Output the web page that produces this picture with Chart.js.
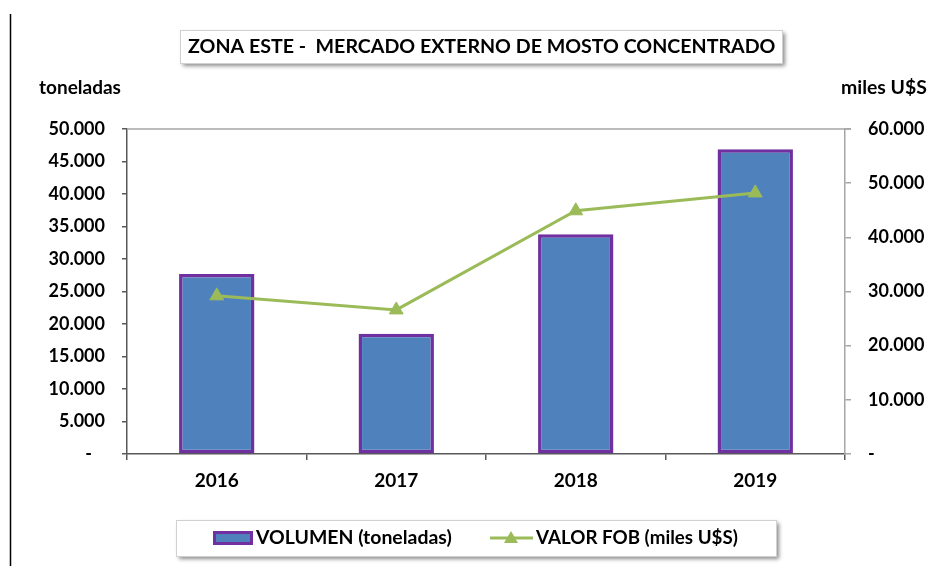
<!DOCTYPE html>
<html>
<head>
<meta charset="utf-8">
<script src="https://cdn.jsdelivr.net/npm/chart.js@4/dist/chart.umd.min.js"></script>
<style>
  html, body { margin: 0; padding: 0; background: #ffffff; }
  #wrap { width: 939px; height: 572px; position: relative; }
</style>
</head>
<body>
<div id="wrap"><canvas id="c" width="939" height="572"></canvas></div>
<script>
// ---- data ----
const categories = ['2016', '2017', '2018', '2019'];
const volumenToneladas = [27700, 18500, 33800, 46900];
const valorFobMilesUSS = [29200, 26600, 44900, 48200];
const leftTicksMax = 50000;
const leftTicksStep = 5000;
const rightTicksMax = 60000;
const rightTicksStep = 10000;
const chartTitle = 'ZONA ESTE -  MERCADO EXTERNO DE MOSTO CONCENTRADO';
const leftAxisTitle = 'toneladas';
const rightAxisTitle = 'miles U$S';
const seriesLabels = ['VOLUMEN (toneladas)', 'VALOR FOB (miles U$S)'];

const FONT = 'Lato, "Open Sans", "DejaVu Sans", sans-serif';
const BAR_FILL = '#4F81BD';
const BAR_BORDER = '#7030A0';
const LINE_COLOR = '#9BBB59';

function fmt(v) {
  if (v === 0) return '-';
  return v.toLocaleString('de-DE');
}

function fitFont(ctx, text, targetW, weight) {
  ctx.font = weight + ' 20px ' + FONT;
  const w = ctx.measureText(text).width;
  const size = 20 * targetW / w;
  ctx.font = weight + ' ' + size.toFixed(2) + 'px ' + FONT;
  return size;
}

const decor = {
  id: 'decor',
  afterDraw(chart) {
    const ctx = chart.ctx;
    const a = chart.chartArea;
    ctx.save();
    // left frame line
    ctx.strokeStyle = '#000';
    ctx.lineWidth = 1.5;
    ctx.beginPath(); ctx.moveTo(10.5, 14); ctx.lineTo(10.5, 566); ctx.stroke();

    // top border of plot area
    ctx.strokeStyle = '#a6a6a6';
    ctx.lineWidth = 1.5;
    ctx.beginPath(); ctx.moveTo(a.left, a.top); ctx.lineTo(a.right + 6, a.top); ctx.stroke();

    // title box
    ctx.save();
    ctx.shadowColor = 'rgba(0,0,0,0.45)';
    ctx.shadowBlur = 4; ctx.shadowOffsetX = 3; ctx.shadowOffsetY = 3;
    ctx.fillStyle = '#fff';
    ctx.fillRect(180, 30, 602, 33);
    ctx.restore();
    ctx.strokeStyle = '#d0d0d0'; ctx.lineWidth = 1;
    ctx.strokeRect(180.5, 30.5, 602, 33);
    ctx.fillStyle = '#000';
    fitFont(ctx, chartTitle, 588, 'bold');
    ctx.textBaseline = 'middle'; ctx.textAlign = 'left';
    ctx.fillText(chartTitle, 188, 47);

    // axis titles
    fitFont(ctx, leftAxisTitle, 82, 'bold');
    ctx.fillText(leftAxisTitle, 39, 88);
    fitFont(ctx, rightAxisTitle, 86, 'bold');
    ctx.fillText(rightAxisTitle, 841, 88);

    // legend box
    ctx.save();
    ctx.shadowColor = 'rgba(0,0,0,0.45)';
    ctx.shadowBlur = 4; ctx.shadowOffsetX = 3; ctx.shadowOffsetY = 3;
    ctx.fillStyle = '#fff';
    ctx.fillRect(176, 520, 600, 36);
    ctx.restore();
    ctx.strokeStyle = '#d0d0d0'; ctx.lineWidth = 1;
    ctx.strokeRect(176.5, 520.5, 600, 36);

    const ds0 = chart.data.datasets[0];
    const ds1 = chart.data.datasets[1];
    // bar swatch
    ctx.fillStyle = ds0.backgroundColor;
    ctx.fillRect(213, 531, 40, 14);
    ctx.strokeStyle = ds0.borderColor; ctx.lineWidth = 3;
    ctx.strokeRect(214.5, 532.5, 37, 11);
    ctx.fillStyle = '#000';
    fitFont(ctx, ds0.label, 196, 'bold');
    ctx.fillText(ds0.label, 256, 538);
    // line swatch
    ctx.strokeStyle = ds1.borderColor; ctx.lineWidth = 3;
    ctx.beginPath(); ctx.moveTo(490, 538); ctx.lineTo(533, 538); ctx.stroke();
    ctx.fillStyle = ds1.pointBackgroundColor;
    ctx.beginPath(); ctx.moveTo(511, 531); ctx.lineTo(518, 543); ctx.lineTo(504, 543); ctx.closePath(); ctx.fill();
    ctx.fillStyle = '#000';
    fitFont(ctx, ds1.label, 202, 'bold');
    ctx.fillText(ds1.label, 536, 538);
    ctx.restore();
  }
};

new Chart(document.getElementById('c'), {
  data: {
    labels: categories,
    datasets: [
      {
        type: 'bar',
        label: seriesLabels[0],
        data: volumenToneladas,
        yAxisID: 'y',
        backgroundColor: BAR_FILL,
        borderColor: BAR_BORDER,
        borderWidth: 3.5,
        borderSkipped: false,
        categoryPercentage: 1,
        barPercentage: 0.42,
        order: 2
      },
      {
        type: 'line',
        label: seriesLabels[1],
        data: valorFobMilesUSS,
        yAxisID: 'y1',
        borderColor: LINE_COLOR,
        backgroundColor: LINE_COLOR,
        borderWidth: 3,
        pointStyle: 'triangle',
        pointRadius: 8,
        pointBorderWidth: 1,
        pointBackgroundColor: LINE_COLOR,
        pointBorderColor: LINE_COLOR,
        tension: 0,
        order: 1
      }
    ]
  },
  options: {
    responsive: false,
    animation: false,
    devicePixelRatio: 1,
    layout: { padding: { top: 129, left: 0, right: 0, bottom: 0 } },
    plugins: {
      legend: { display: false },
      title: { display: false },
      tooltip: { enabled: false }
    },
    scales: {
      x: {
        type: 'category',
        grid: { drawOnChartArea: false, offset: true, tickLength: 6, color: '#595959', lineWidth: 1.5 },
        border: { color: '#595959', width: 1.5 },
        ticks: { color: '#000', padding: 9, font: { family: FONT, size: 19, weight: 'bold' } },
        afterFit(s) { s.height = 118; }
      },
      y: {
        position: 'left',
        min: 0, max: leftTicksMax,
        grid: { drawOnChartArea: false, tickLength: 5, color: '#595959', lineWidth: 1.5 },
        border: { color: '#595959', width: 1.5 },
        ticks: {
          stepSize: leftTicksStep, color: '#000', padding: 17,
          font: { family: FONT, size: 18, weight: 'bold' },
          callback: (v) => v === 0 ? '-   ' : fmt(v)
        },
        afterFit(s) { s.width = 127; }
      },
      y1: {
        position: 'right',
        min: 0, max: rightTicksMax,
        grid: { drawOnChartArea: false, tickLength: 6, color: '#a6a6a6', lineWidth: 1.5 },
        border: { color: '#a6a6a6', width: 1.5 },
        ticks: {
          stepSize: rightTicksStep, color: '#000', padding: 17,
          font: { family: FONT, size: 18, weight: 'bold' },
          callback: (v) => fmt(v)
        },
        afterFit(s) { s.width = 94; }
      }
    }
  },
  plugins: [decor]
});
</script>
</body>
</html>
